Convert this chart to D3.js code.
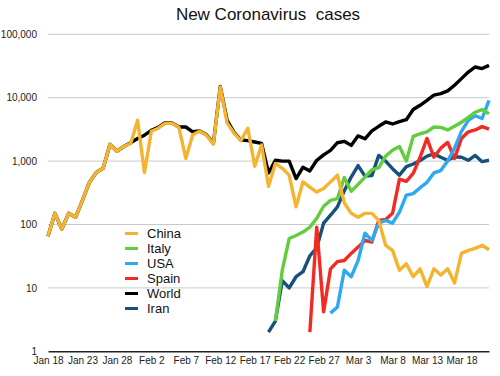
<!DOCTYPE html>
<html>
<head>
<meta charset="utf-8">
<script src="https://cdn.jsdelivr.net/npm/d3@7"></script>
<style>
  body { margin: 0; background: #fff; }
  svg { font-family: "Liberation Sans", Arial, sans-serif; }
</style>
</head>
<body>
<svg id="chart" width="500" height="376"></svg>
<script>
"use strict";

// daily new cases, Jan 18 .. Mar 22 (65 days)
const startDate = "2020-01-18";

const china = [65, 150, 85, 150, 130, 240, 460, 660, 770, 1840,
  1430, 1700, 1900, 4400, 660, 2950, 3300, 3950, 3950, 3400,
  1100, 2600, 2950, 2550, 1850, 14800, 4000, 2750, 2100, 3300,
  830, 1800, 400, 920, 770, 600, 190, 470, 390, 325,
  370, 470, 600, 220, 150, 130, 150, 150, 116, 47,
  39, 19, 24, 15, 20, 10.5, 20, 16, 20, 12,
  35, 39, 42, 47, 40];

const world = [65, 150, 85, 150, 130, 240, 460, 660, 770, 1840,
  1430, 1700, 1950, 2270, 2560, 3050, 3400, 4050, 4000, 3450,
  3450, 2900, 3000, 2600, 1900, 15000, 4400, 2850, 2150, 2100,
  2000, 1900, 650, 1030, 1000, 1000, 530, 800, 700, 1030,
  1250, 1480, 1950, 2050, 1770, 2500, 2250, 3000, 3540, 4140,
  3850, 4200, 4500, 6500, 7600, 9100, 11000, 11600, 12800, 15700,
  20000, 25400, 30500, 28800, 32300];

const italy = [null, null, null, null, null, null, null, null, null, null,
  null, null, null, null, null, null, null, null, null, null,
  null, null, null, null, null, null, null, null, null, null,
  null, null, null, 3, 19, 60, 67, 76, 91, 125,
  194, 240, 256, 550, 335, 430, 560, 730, 790, 1200,
  1480, 1700, 1000, 2450, 2700, 2900, 3450, 3400, 3100, 3550,
  4100, 4900, 5900, 6500, 5600];

const usa = [null, null, null, null, null, null, null, null, null, null,
  null, null, null, null, null, null, null, null, null, null,
  null, null, null, null, null, null, null, null, null, null,
  null, null, null, null, null, null, null, null, null, null,
  null, 4, 5, 19, 15, 27, 73, 56, 105, 116,
  105, 157, 290, 307, 380, 463, 650, 710, 1000, 1600,
  2950, 4400, 5200, 4700, 9100];

const spain = [null, null, null, null, null, null, null, null, null, null,
  null, null, null, null, null, null, null, null, null, null,
  null, null, null, null, null, null, null, null, null, null,
  null, null, null, null, null, null, null, null, 2, 91,
  4.2, 20, 26, 27, 35, 44, 56, 53, 116, 120,
  150, 520, 480, 640, 1150, 2280, 1150, 1600, 1970, 1100,
  2280, 2900, 3100, 3500, 3200];

const iran = [null, null, null, null, null, null, null, null, null, null,
  null, null, null, null, null, null, null, null, null, null,
  null, null, null, null, null, null, null, null, null, null,
  null, null, 2, 3, 13, 10, 15, 18, 32, 43,
  105, 140, 190, 340, 560, 850, 580, 590, 1230, 1000,
  760, 600, 820, 900, 1020, 1200, 1300, 1150, 1030, 1170,
  1150, 1030, 1230, 980, 1030];

const legendNames = ["China", "Italy", "USA", "Spain", "World", "Iran"];
const tickDates = ["2020-01-18", "2020-01-23", "2020-01-28", "2020-02-02",
  "2020-02-07", "2020-02-12", "2020-02-17", "2020-02-22", "2020-02-27",
  "2020-03-03", "2020-03-08", "2020-03-13", "2020-03-18"];
const yTicks = [1, 10, 100, 1000, 10000, 100000];

const colors = {
  China: "#f4b331",
  Italy: "#62cd3e",
  USA: "#2da8f3",
  Spain: "#f22a22",
  World: "#000000",
  Iran: "#16507c",
};

const seriesByName = { China: china, Italy: italy, USA: usa, Spain: spain, World: world, Iran: iran };
// draw order: later on top
const drawOrder = ["World", "Iran", "Spain", "USA", "Italy", "China"];

const svg = d3.select("#chart");
const start = d3.utcParse("%Y-%m-%d")(startDate);
const dayOf = (i) => d3.utcDay.offset(start, i);

const x = d3.scaleUtc()
  .domain([start, dayOf(china.length - 1)])
  .range([48, 489]);
const y = d3.scaleLog()
  .domain([1, 100000])
  .range([351.3, 34.3]);

// title
svg.append("text")
  .attr("x", 268)
  .attr("y", 19.5)
  .attr("text-anchor", "middle")
  .style("font-size", "17px")
  .style("white-space", "pre")
  .attr("fill", "#111")
  .text("New Coronavirus  cases");

// gridlines
svg.append("g")
  .selectAll("line")
  .data(yTicks.filter((d) => d > 1))
  .join("line")
  .attr("x1", 48)
  .attr("x2", 489)
  .attr("y1", (d) => y(d))
  .attr("y2", (d) => y(d))
  .attr("stroke", "#c9c9c9")
  .attr("stroke-width", 1);

// y axis labels
const yAxis = svg.append("g")
  .attr("transform", "translate(48,0)")
  .call(d3.axisLeft(y).tickValues(yTicks).tickFormat(d3.format(",")).tickSize(0).tickPadding(11));
yAxis.select(".domain").remove();
yAxis.selectAll("text")
  .style("font-size", "10px")
  .style("font-family", "Liberation Sans, Arial, sans-serif")
  .attr("fill", "#222");

// x axis
const xAxis = svg.append("g")
  .attr("transform", `translate(0,${y(1)})`)
  .call(d3.axisBottom(x)
    .tickValues(tickDates.map((d) => d3.utcParse("%Y-%m-%d")(d)))
    .tickFormat(d3.utcFormat("%b %-d"))
    .tickSize(0)
    .tickPadding(6));
xAxis.select(".domain")
  .attr("stroke", "#222")
  .attr("stroke-width", 1.6);
xAxis.selectAll("text")
  .style("font-size", "10px")
  .style("font-family", "Liberation Sans, Arial, sans-serif")
  .attr("fill", "#222");

// lines
const line = d3.line()
  .defined((d) => d != null)
  .x((d, i) => x(dayOf(i)))
  .y((d) => y(d));

svg.append("g")
  .selectAll("path")
  .data(drawOrder)
  .join("path")
  .attr("d", (name) => line(seriesByName[name]))
  .attr("fill", "none")
  .attr("stroke", (name) => colors[name])
  .attr("stroke-width", 3.4)
  .attr("stroke-linejoin", "round")
  .attr("stroke-linecap", "butt");

// legend
const legend = svg.append("g")
  .attr("transform", "translate(125,233.5)");
const rows = legend.selectAll("g")
  .data(legendNames)
  .join("g")
  .attr("transform", (d, i) => `translate(0,${i * 15})`);
rows.append("line")
  .attr("x1", 0)
  .attr("x2", 13)
  .attr("stroke", (d) => colors[d])
  .attr("stroke-width", 3);
rows.append("text")
  .attr("x", 22)
  .attr("dy", "0.35em")
  .style("font-size", "13px")
  .attr("fill", "#111")
  .text((d) => d);
</script>
</body>
</html>
